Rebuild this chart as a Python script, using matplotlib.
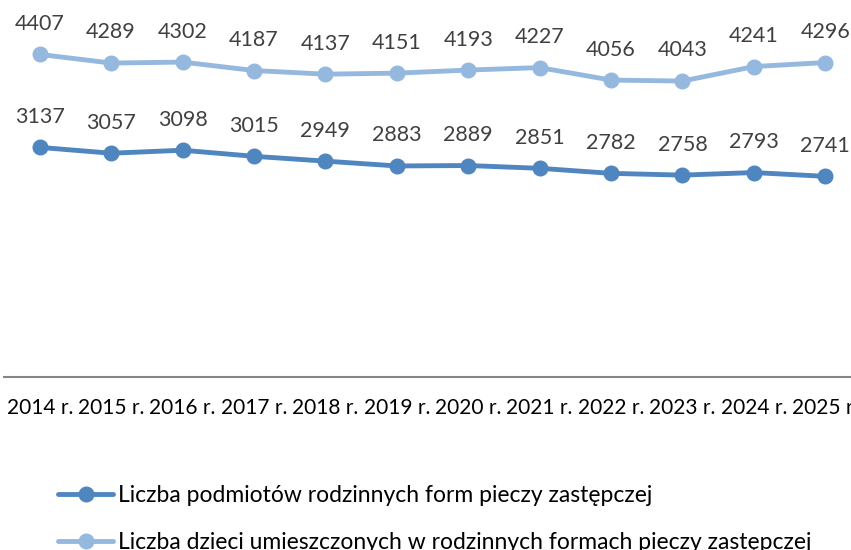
import matplotlib.pyplot as plt

plt.rcParams['font.family'] = ['Lato', 'DejaVu Sans']

years = ["2014 r.", "2015 r.", "2016 r.", "2017 r.", "2018 r.", "2019 r.",
         "2020 r.", "2021 r.", "2022 r.", "2023 r.", "2024 r.", "2025 r."]
podmioty = [3137, 3057, 3098, 3015, 2949, 2883, 2889, 2851, 2782, 2758, 2793, 2741]
dzieci = [4407, 4289, 4302, 4187, 4137, 4151, 4193, 4227, 4056, 4043, 4241, 4296]

label_podmioty = "Liczba podmiotów rodzinnych form pieczy zastępczej"
label_dzieci = "Liczba dzieci umieszczonych w rodzinnych formach pieczy zastępczej"

dark = "#4F86BF"
light = "#95B8DF"

fig = plt.figure(figsize=(8.51, 5.5), dpi=100)
ax = fig.add_axes([4 / 851, 173 / 550, 857 / 851, 366 / 550])

x = range(len(years))
l1, = ax.plot(x, podmioty, color=dark, lw=3.5, marker="o", ms=10.5,
              label=label_podmioty, solid_capstyle="round")
l2, = ax.plot(x, dzieci, color=light, lw=3.5, marker="o", ms=10.5,
              label=label_dzieci, solid_capstyle="round")

for series in (podmioty, dzieci):
    for xi, v in zip(x, series):
        ax.annotate(str(v), (xi, v), xytext=(0, 22), textcoords="offset points",
                    ha="center", va="center", fontsize=15.5, color="#404040",
                    annotation_clip=False)

ax.set_xlim(-0.5, len(years) - 0.5)
ax.set_ylim(0, 5000)
ax.set_yticks([])
ax.set_xticks(list(x))
ax.set_xticklabels(years, fontsize=15, color="black")
ax.tick_params(axis="x", length=0, pad=15)
for s in ["top", "left", "right"]:
    ax.spines[s].set_visible(False)
ax.spines["bottom"].set_color("#868686")
ax.spines["bottom"].set_linewidth(1.5)

fig.legend(handles=[l1, l2], loc="upper left", bbox_to_anchor=(58 / 851, 1 - 485 / 550),
           frameon=False, fontsize=16.5, handlelength=2.4, handletextpad=0.2,
           labelspacing=1.15, borderaxespad=0, borderpad=0)

fig.savefig("out.png", dpi=100)
